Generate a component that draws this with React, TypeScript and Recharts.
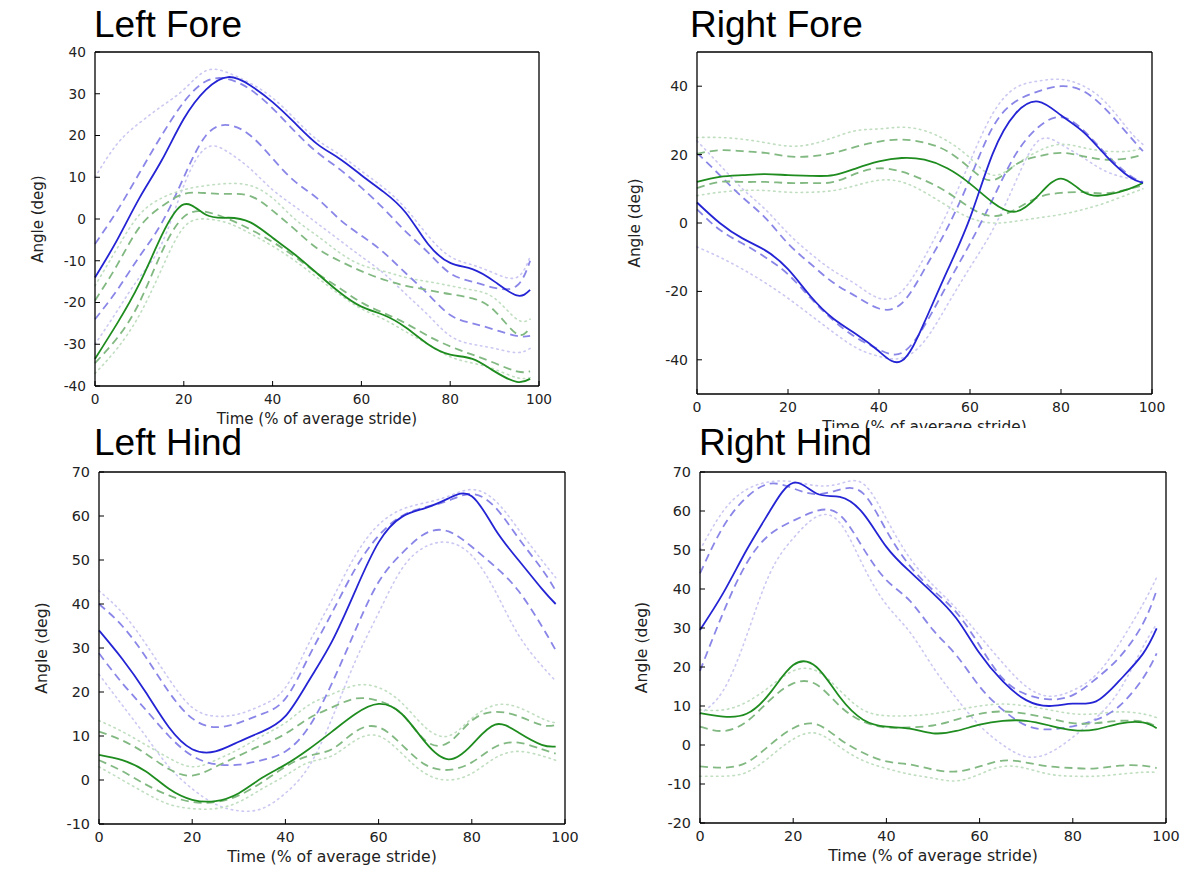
import { LineChart, Line, XAxis, YAxis, Label } from "recharts";

// stride position (% of average stride) shared by every series
const T = [0, 5, 10, 15, 20, 25, 30, 35, 40, 45, 50, 55, 60, 65, 70, 75, 80, 85, 90, 95, 98];
const X_TICKS = [0, 20, 40, 60, 80, 100];

// Left Fore
const LF_BLUE = [-14, -5, 5, 14, 24, 31, 34, 32, 28, 23, 18, 14.5, 10.5, 6.5, 1.5, -6, -10.5, -12, -15, -18.3, -17];
const LF_BLUE_HI = [-6, 2, 11, 20, 28, 33, 33.5, 31, 26.5, 21, 16, 12, 7.5, 2.5, -3, -8, -13, -15, -16.5, -16, -10];
const LF_BLUE_LO = [-24, -17, -9, -1, 10, 20, 22.5, 20, 14.5, 9, 5, 0, -4, -8, -13, -18, -23, -25, -26.5, -28, -28];
const LF_BLUE_MAX = [10, 18, 23, 27, 31, 35.5, 35, 32.5, 29, 24, 19, 15.5, 11.5, 7.5, 2.5, -4, -9, -11, -13, -14, -9];
const LF_BLUE_MIN = [-30, -22, -14, -6, 8, 17, 16, 12, 7, 3, -1, -5, -9, -13, -18, -23, -28, -30, -31, -32, -31];
const LF_GREEN = [-33.5, -25, -15.5, -4, 3.5, 1, 0.3, -0.8, -4.5, -8.5, -13, -17.5, -21, -23, -26, -30, -32.5, -33.5, -36.5, -39, -38.3];
const LF_GREEN_HI = [-19.5, -11, -2, 3, 6, 6.2, 6, 5.5, 2, -2.5, -7, -10, -12.5, -14.5, -16, -17, -18, -19, -22, -27.5, -26];
const LF_GREEN_LO = [-34.5, -28.5, -20, -8, 0.5, 1.7, 0, -2.5, -5.5, -9, -13, -16.5, -20, -22.5, -25, -28, -30.5, -32.5, -34.5, -36.5, -36.5];
const LF_GREEN_MAX = [-16, -7, 1, 5, 7, 8, 8.5, 8, 5, 0, -4, -8, -11, -12.5, -14, -15, -16, -17, -19, -24, -24];
const LF_GREEN_MIN = [-37, -31, -23, -12, -2, 0, -1, -3.5, -6.5, -10, -14, -18, -21.5, -24, -27, -30, -33, -34.5, -36, -38, -38];

// Right Fore
const RF_BLUE = [6, 0, -4.5, -8, -13.5, -21.5, -28, -32.5, -37.5, -40.3, -29, -14, 1.5, 20.3, 32, 35.5, 31.5, 26.5, 19.5, 13.5, 11.7];
const RF_BLUE_HI = [20.5, 14, 7.5, 1.5, -6, -12, -17.5, -21.5, -25, -23.5, -13.5, -1.5, 13, 28, 35.5, 38.5, 40, 38.5, 33, 25.5, 21];
const RF_BLUE_LO = [4, -2, -6, -10, -15, -22, -28.5, -33.5, -37, -38, -30, -18, -6, 7, 20, 28, 31, 27, 20, 14, 12];
const RF_BLUE_MAX = [24, 17, 10, 4, -3, -9, -14, -18, -22, -20, -10, 3, 18, 32, 39.5, 41.5, 42, 40, 35, 27, 23];
const RF_BLUE_MIN = [-7, -10, -13.5, -17.5, -22, -27, -32, -36.5, -39, -39.5, -34.5, -24, -13, -2, 12, 24, 23, 19, 15, 13, 12];
const RF_GREEN = [12, 13.5, 14, 14.3, 14, 13.8, 14, 16, 18, 19, 18.5, 16, 11.5, 6, 3.3, 8, 13, 9, 8.2, 10, 11.7];
const RF_GREEN_HI = [20.2, 21.3, 21, 20.5, 19.5, 19.5, 20.5, 22.3, 23.8, 24.4, 23.5, 21, 16, 12.5, 17, 19.5, 20.5, 19.5, 18.5, 19, 20];
const RF_GREEN_LO = [10.2, 12, 12, 12, 11.7, 11.7, 12, 14.5, 16, 15, 12.5, 9, 4.5, 2, 4, 7.5, 8.8, 9, 8.7, 10, 11];
const RF_GREEN_MAX = [25, 25, 24.5, 23.5, 22.5, 23, 25, 27, 27.5, 28, 27, 24, 19, 14, 17, 21, 23, 22, 21, 21, 22];
const RF_GREEN_MIN = [8, 9, 9.5, 9.5, 9, 9, 9.5, 11, 12.5, 12, 9, 5, 1.5, 0, 0.5, 1.5, 2.5, 4, 6, 8.5, 10];

// Left Hind
const LH_BLUE = [34, 27.5, 20, 12, 7, 6.5, 8.7, 11, 14.5, 22.5, 31.5, 43, 54, 59.8, 61.8, 64, 64.5, 57, 50, 43.5, 40];
const LH_BLUE_HI = [40, 35, 28, 20, 14, 12, 13, 15, 18.5, 28, 38, 48, 55.5, 60, 62, 63.5, 65, 62, 55, 48, 43];
const LH_BLUE_LO = [28.8, 22, 16, 10, 5.5, 3.6, 3.5, 4.5, 6.5, 12, 22, 34, 45, 51.5, 56, 56.5, 53, 48.5, 43, 35, 29.5];
const LH_BLUE_MAX = [43, 38, 31, 23, 16.5, 14.5, 15, 17, 21, 31, 41, 51, 58, 61.5, 63, 64.5, 66, 63.5, 57, 50, 46];
const LH_BLUE_MIN = [24, 17, 10, 3, -2, -5.5, -7, -6.5, -3, 3, 14, 27, 38, 48, 53, 54, 51, 43, 33, 26, 22.5];
const LH_GREEN = [5.7, 4.5, 2, -2, -4.5, -4.8, -3, 0.5, 3.5, 7, 11, 15, 17.3, 15, 8.6, 4.7, 8, 12.6, 10.8, 8, 7.6];
const LH_GREEN_HI = [11, 9, 6, 2.5, 1, 3, 5.5, 8, 10.5, 14, 16.5, 18.5, 18, 15, 9, 8.5, 13.5, 15.5, 14.5, 12.5, 12.5];
const LH_GREEN_LO = [4.5, 2, -1, -3.5, -5, -5, -3.5, -0.5, 3, 5.5, 7, 11, 12, 8, 3.5, 2.3, 4, 7.5, 8.5, 7, 6];
const LH_GREEN_MAX = [13.5, 11, 8, 5, 3, 4.5, 7, 10, 13, 17, 19.5, 21.5, 21, 17.5, 12, 10, 14, 17, 16.5, 14, 13];
const LH_GREEN_MIN = [3, 0, -3, -5.5, -6.5, -6.5, -5, -2, 1, 4, 5.5, 9, 10, 6, 1.5, 0, 1.5, 5, 6.5, 5.5, 4.5];

// Right Hind
const RH_BLUE = [29.5, 39, 50, 60, 67.2, 64.5, 63.6, 59.4, 50.8, 44.5, 38.9, 32.5, 23.5, 16.3, 11.5, 10, 10.6, 11.2, 16.5, 23.3, 29.9];
const RH_BLUE_HI = [44, 56, 63.5, 67, 65.8, 64.3, 65.5, 64.5, 55, 46, 39.7, 34, 25.5, 17, 13, 11.7, 12.8, 17, 22.5, 31, 39.7];
const RH_BLUE_LO = [19, 34, 46.6, 54, 57.5, 60, 59, 50.5, 42.3, 37, 29.5, 23, 15, 9, 5, 4, 4.8, 6.5, 10, 17, 23.5];
const RH_BLUE_MAX = [50, 60, 65.5, 67.5, 67.5, 66.5, 67, 67, 58, 48, 41, 35, 28, 21, 15, 12.5, 14, 18, 26, 36, 43];
const RH_BLUE_MIN = [8, 14, 28, 44, 53, 58.5, 57, 46, 36, 29, 20, 12, 5, 0, -3, -2, 2, 7, 14, 25, 31];
const RH_GREEN = [8.2, 7.3, 8, 13.3, 20.5, 20, 12.3, 6.5, 4.7, 4.2, 3, 3.6, 5.2, 6.2, 6.2, 5, 3.8, 4, 5.5, 5.8, 4.3];
const RH_GREEN_HI = [4.7, 3.6, 6, 11.5, 15.8, 15.5, 10, 6, 4.5, 4.5, 5, 6.5, 8, 8.6, 8, 6.8, 5.6, 5.6, 6.2, 6, 4.7];
const RH_GREEN_LO = [-5.5, -5.8, -4.5, 0, 4.3, 5.3, 1.5, -2, -4.2, -5, -6.3, -6.8, -5.5, -4, -4.5, -5.5, -5.9, -6, -5.3, -5.3, -5.9];
const RH_GREEN_MAX = [9, 9, 11, 15, 19, 19, 14, 9, 7.5, 7.5, 8, 9, 10, 10.5, 10, 9, 8, 8, 8.5, 8, 7];
const RH_GREEN_MIN = [-8, -8, -7, -3, 1.5, 3, -0.5, -4, -6, -7.5, -8.5, -9.2, -7.5, -5.5, -6, -7.5, -8, -8, -7.5, -7, -7];

const BLUE = "#2424d4";
const GREEN = "#1f8c1f";
const BLUE_DASH = "#8a86e8";
const GREEN_DASH = "#82b982";
const BLUE_DOT = "#cbc8f2";
const GREEN_DOT = "#c0dec0";
const TEXT = "#222";
const SANS = "'DejaVu Sans', Verdana, sans-serif";

// drawing order: envelopes first, means on top
const SERIES = [
  { key: "bMax", stroke: BLUE_DOT, dash: "1.5 4", w: 1.6 },
  { key: "bMin", stroke: BLUE_DOT, dash: "1.5 4", w: 1.6 },
  { key: "gMax", stroke: GREEN_DOT, dash: "1.5 4", w: 1.6 },
  { key: "gMin", stroke: GREEN_DOT, dash: "1.5 4", w: 1.6 },
  { key: "bHi", stroke: BLUE_DASH, dash: "8 5", w: 1.8 },
  { key: "bLo", stroke: BLUE_DASH, dash: "8 5", w: 1.8 },
  { key: "gHi", stroke: GREEN_DASH, dash: "8 5", w: 1.8 },
  { key: "gLo", stroke: GREEN_DASH, dash: "8 5", w: 1.8 },
  { key: "gMean", stroke: GREEN, dash: undefined, w: 1.8 },
  { key: "bMean", stroke: BLUE, dash: undefined, w: 1.8 },
];

function rows(s: Record<string, number[]>) {
  return T.map((t, i) => {
    const r: Record<string, number> = { t };
    for (const k of Object.keys(s)) r[k] = s[k][i];
    return r;
  });
}

const LF_ROWS = rows({
  bMean: LF_BLUE, bHi: LF_BLUE_HI, bLo: LF_BLUE_LO, bMax: LF_BLUE_MAX, bMin: LF_BLUE_MIN,
  gMean: LF_GREEN, gHi: LF_GREEN_HI, gLo: LF_GREEN_LO, gMax: LF_GREEN_MAX, gMin: LF_GREEN_MIN,
});
const RF_ROWS = rows({
  bMean: RF_BLUE, bHi: RF_BLUE_HI, bLo: RF_BLUE_LO, bMax: RF_BLUE_MAX, bMin: RF_BLUE_MIN,
  gMean: RF_GREEN, gHi: RF_GREEN_HI, gLo: RF_GREEN_LO, gMax: RF_GREEN_MAX, gMin: RF_GREEN_MIN,
});
const LH_ROWS = rows({
  bMean: LH_BLUE, bHi: LH_BLUE_HI, bLo: LH_BLUE_LO, bMax: LH_BLUE_MAX, bMin: LH_BLUE_MIN,
  gMean: LH_GREEN, gHi: LH_GREEN_HI, gLo: LH_GREEN_LO, gMax: LH_GREEN_MAX, gMin: LH_GREEN_MIN,
});
const RH_ROWS = rows({
  bMean: RH_BLUE, bHi: RH_BLUE_HI, bLo: RH_BLUE_LO, bMax: RH_BLUE_MAX, bMin: RH_BLUE_MIN,
  gMean: RH_GREEN, gHi: RH_GREEN_HI, gLo: RH_GREEN_LO, gMax: RH_GREEN_MAX, gMin: RH_GREEN_MIN,
});

type Rect = { x: number; y: number; w: number; h: number };

const AXW = 75; // left axis band
const TOP = 10; // space above the frame (incl. 1px top axis band)
const RIGHT = 25; // space right of the frame (incl. 1px right axis band)
const XH = 45; // bottom axis band

function Panel({
  rect, data, yDomain, yTicks, fs, ls, yLabelOffset,
}: {
  rect: Rect; data: Record<string, number>[]; yDomain: [number, number]; yTicks: number[];
  fs: number; ls: number; yLabelOffset: number;
}) {
  const tick = { fontSize: fs, fontFamily: SANS, fill: TEXT };
  const frame = { stroke: "#000", strokeWidth: 1.3 };
  const tl = { stroke: "#000", strokeWidth: 1 };
  return (
    <div style={{ position: "absolute", left: rect.x - AXW, top: rect.y - TOP }}>
      <LineChart
        width={AXW + rect.w + RIGHT}
        height={TOP + rect.h + XH}
        data={data}
        margin={{ top: TOP - 1, right: RIGHT - 1, bottom: 0, left: 0 }}
      >
        <XAxis
          xAxisId="b"
          dataKey="t"
          type="number"
          domain={[0, 100]}
          ticks={X_TICKS}
          height={XH}
          tickSize={-5}
          tickMargin={13}
          tick={tick}
          axisLine={frame}
          tickLine={tl}
        >
          <Label
            value="Time (% of average stride)"
            position="insideBottom"
            offset={7.5}
            style={{ fontSize: ls, fontFamily: SANS, fill: TEXT }}
          />
        </XAxis>
        <XAxis
          xAxisId="t"
          orientation="top"
          dataKey="t"
          type="number"
          domain={[0, 100]}
          ticks={X_TICKS}
          height={1}
          tickSize={-5}
          tick={false}
          axisLine={frame}
          tickLine={tl}
        />
        <YAxis
          yAxisId="l"
          type="number"
          domain={yDomain}
          ticks={yTicks}
          width={AXW}
          tickSize={-5}
          tickMargin={14}
          tick={tick}
          axisLine={frame}
          tickLine={tl}
          allowDataOverflow
        >
          <Label
            value="Angle (deg)"
            angle={-90}
            position="insideLeft"
            offset={yLabelOffset}
            style={{ fontSize: ls, fontFamily: SANS, fill: TEXT, textAnchor: "middle" }}
          />
        </YAxis>
        <YAxis
          yAxisId="r"
          orientation="right"
          type="number"
          domain={yDomain}
          ticks={yTicks}
          width={1}
          tickSize={-5}
          tick={false}
          axisLine={frame}
          tickLine={tl}
          allowDataOverflow
        />
        {SERIES.map((s) => (
          <Line
            key={s.key}
            xAxisId="b"
            yAxisId="l"
            type="natural"
            dataKey={s.key}
            stroke={s.stroke}
            strokeWidth={s.w}
            strokeDasharray={s.dash}
            strokeLinecap={s.dash === "1.5 4" ? "round" : "butt"}
            dot={false}
            activeDot={false}
            isAnimationActive={false}
          />
        ))}
      </LineChart>
    </div>
  );
}

function Title({ text, x, baseline }: { text: string; x: number; baseline: number }) {
  return (
    <div
      style={{
        position: "absolute",
        left: x,
        top: baseline - 31.5,
        fontFamily: "'Liberation Sans', Arial, sans-serif",
        fontSize: 37,
        lineHeight: "37px",
        color: "#000",
        whiteSpace: "nowrap",
      }}
    >
      {text}
    </div>
  );
}

export default function App() {
  return (
    <div
      style={{
        position: "absolute",
        left: 0,
        top: 0,
        width: 1186,
        height: 869,
        background: "#fff",
        overflow: "hidden",
      }}
    >
      <Panel
        rect={{ x: 95, y: 52, w: 444, h: 334 }}
        data={LF_ROWS}
        yDomain={[-40, 40]}
        yTicks={[-40, -30, -20, -10, 0, 10, 20, 30, 40]}
        fs={13.7}
        ls={15}
        yLabelOffset={17.5}
      />
      <Title text="Left Fore" x={94} baseline={37} />
      <Panel
        rect={{ x: 697, y: 52, w: 455, h: 342 }}
        data={RF_ROWS}
        yDomain={[-50, 50]}
        yTicks={[-40, -20, 0, 20, 40]}
        fs={14}
        ls={15.3}
        yLabelOffset={13}
      />
      <Title text="Right Fore" x={690} baseline={37} />
      <Panel
        rect={{ x: 99, y: 472, w: 466, h: 352 }}
        data={LH_ROWS}
        yDomain={[-10, 70]}
        yTicks={[-10, 0, 10, 20, 30, 40, 50, 60, 70]}
        fs={14.4}
        ls={15.7}
        yLabelOffset={17}
      />
      <Title text="Left Hind" x={94} baseline={455} />
      <div style={{ position: "absolute", left: 600, top: 428, width: 586, height: 441, background: "#fff" }} />
      <Panel
        rect={{ x: 700, y: 472, w: 466, h: 351 }}
        data={RH_ROWS}
        yDomain={[-20, 70]}
        yTicks={[-20, -10, 0, 10, 20, 30, 40, 50, 60, 70]}
        fs={14.4}
        ls={15.7}
        yLabelOffset={16}
      />
      <Title text="Right Hind" x={699} baseline={455} />
    </div>
  );
}
